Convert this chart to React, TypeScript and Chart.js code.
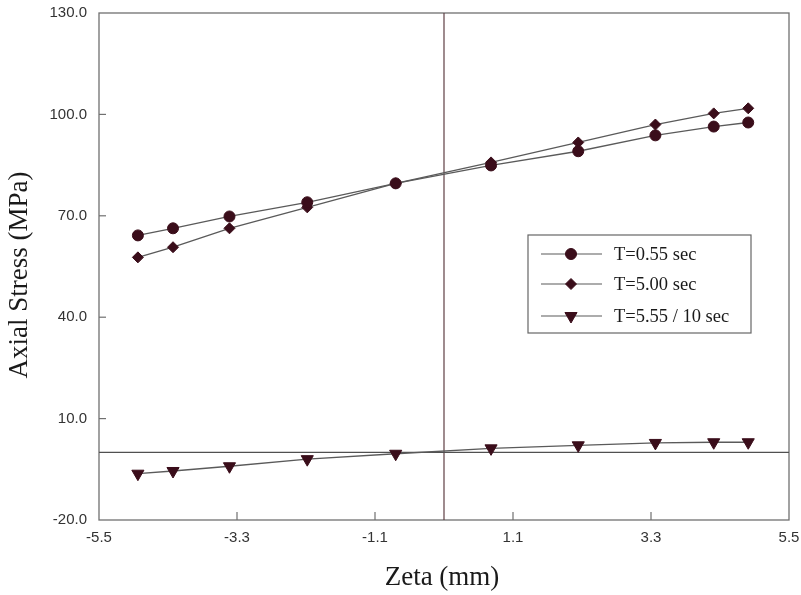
import React, { useEffect, useRef } from "react";
import { Chart, registerables } from "chart.js";
import { drawPoint } from "chart.js/helpers";

Chart.register(...registerables);

// ---- data ----
const zeta = [-4.88, -4.32, -3.42, -2.18, -0.77, 0.75, 2.14, 3.37, 4.3, 4.85];
const stressT055 = [64.2, 66.3, 69.8, 74.0, 79.6, 84.9, 89.1, 93.8, 96.4, 97.6];
const stressT500 = [57.7, 60.7, 66.3, 72.5, 79.6, 85.8, 91.7, 97.0, 100.3, 101.8];
const stressT555 = [-6.3, -5.5, -4.1, -2.0, -0.4, 1.2, 2.1, 2.8, 3.0, 3.0];
const seriesLabels = ["T=0.55 sec", "T=5.00 sec", "T=5.55 / 10 sec"];
const xTitle = "Zeta (mm)";
const yTitle = "Axial Stress (MPa)";
const xMin = -5.5, xMax = 5.5, xStep = 2.2;
const yMin = -20, yMax = 130, yStep = 30;

const markerColor = "#3a0d1a";
const lineColor = "#5a5a5a";
const frameColor = "#707070";

const decorPlugin = {
  id: "decor",
  beforeDatasetsDraw(chart: any) {
    const { ctx, chartArea: a, scales } = chart;
    const xs = scales.x, ys = scales.y;
    ctx.save();
    ctx.strokeStyle = frameColor;
    ctx.lineWidth = 1.3;
    ctx.strokeRect(a.left, a.top, a.right - a.left, a.bottom - a.top);
    const x0 = xs.getPixelForValue(0);
    const y0 = ys.getPixelForValue(0);
    ctx.strokeStyle = "#5e3e44";
    ctx.lineWidth = 1.2;
    ctx.beginPath();
    ctx.moveTo(x0, a.top);
    ctx.lineTo(x0, a.bottom);
    ctx.stroke();
    ctx.strokeStyle = "#505050";
    ctx.beginPath();
    ctx.moveTo(a.left, y0);
    ctx.lineTo(a.right, y0);
    ctx.stroke();
    ctx.strokeStyle = frameColor;
    ctx.lineWidth = 1.2;
    xs.ticks.forEach((t: any) => {
      if (t.value <= xMin + 1e-6 || t.value >= xMax - 1e-6) return;
      const px = xs.getPixelForValue(t.value);
      ctx.beginPath();
      ctx.moveTo(px, a.bottom);
      ctx.lineTo(px, a.bottom - 8);
      ctx.stroke();
    });
    ys.ticks.forEach((t: any) => {
      if (t.value <= yMin + 1e-6 || t.value >= yMax - 1e-6) return;
      const py = ys.getPixelForValue(t.value);
      ctx.beginPath();
      ctx.moveTo(a.left, py);
      ctx.lineTo(a.left + 7, py);
      ctx.stroke();
    });
    ctx.restore();
  },
  afterDraw(chart: any) {
    const { ctx, chartArea: a } = chart;
    ctx.save();
    ctx.fillStyle = "#1a1a1a";
    ctx.font = "27px 'Liberation Serif', 'Times New Roman', serif";
    ctx.textAlign = "center";
    ctx.textBaseline = "middle";
    ctx.fillText(xTitle, 442, 578);
    ctx.save();
    ctx.translate(20, 275);
    ctx.rotate(-Math.PI / 2);
    ctx.fillText(yTitle, 0, 0);
    ctx.restore();

    const bx = 528, by = 235, bw = 223, bh = 98;
    ctx.strokeStyle = "#666";
    ctx.lineWidth = 1.2;
    ctx.strokeRect(bx, by, bw, bh);
    const rows = [254, 284, 316];
    ctx.font = "18.5px 'Liberation Serif', 'Times New Roman', serif";
    ctx.textAlign = "left";
    ctx.textBaseline = "middle";
    chart.data.datasets.forEach((ds: any, i: number) => {
      const y = rows[i];
      ctx.strokeStyle = lineColor;
      ctx.lineWidth = 1.2;
      ctx.beginPath();
      ctx.moveTo(541, y);
      ctx.lineTo(602, y);
      ctx.stroke();
      ctx.fillStyle = markerColor;
      ctx.strokeStyle = markerColor;
      ctx.lineWidth = 1;
      drawPoint(ctx, {
        pointStyle: ds.pointStyle,
        radius: ds.pointRadius,
        rotation: ds.pointRotation || 0,
        borderWidth: 1,
      }, 571, y);
      ctx.fillStyle = "#1a1a1a";
      ctx.fillText(ds.label, 614, y + 1);
    });
    ctx.restore();
  },
};

const zeroPad = (s: any) => {
  s.paddingTop = 0;
  s.paddingBottom = 0;
  s.paddingLeft = 0;
  s.paddingRight = 0;
};

export default function App() {
  const ref = useRef<HTMLCanvasElement | null>(null);
  useEffect(() => {
    if (!ref.current) return;
    const mk = (label: string, ys: number[], style: string, r: number, rot = 0) => ({
      label,
      data: zeta.map((x, i) => ({ x, y: ys[i] })),
      showLine: true,
      borderColor: lineColor,
      borderWidth: 1.3,
      backgroundColor: markerColor,
      pointBackgroundColor: markerColor,
      pointBorderColor: markerColor,
      pointBorderWidth: 1,
      pointStyle: style,
      pointRadius: r,
      pointRotation: rot,
      tension: 0,
    });
    const chart = new Chart(ref.current, {
      type: "scatter",
      data: {
        datasets: [
          mk(seriesLabels[0], stressT055, "circle", 5.5),
          mk(seriesLabels[1], stressT500, "rectRot", 5.5),
          mk(seriesLabels[2], stressT555, "triangle", 7, 180),
        ],
      },
      options: {
        responsive: false,
        animation: false,
        layout: { padding: { left: 0, right: 12, top: 13, bottom: 0 } },
        plugins: {
          legend: { display: false },
          tooltip: { enabled: false },
        },
        scales: {
          x: {
            type: "linear",
            min: xMin,
            max: xMax,
            grid: { display: false, drawTicks: false },
            border: { display: false },
            ticks: {
              stepSize: xStep,
              autoSkip: false,
              maxRotation: 0,
              padding: 9,
              color: "#333",
              font: { family: "'Liberation Sans', Arial, sans-serif", size: 15 },
              callback: (v: any) => Number(v).toFixed(1),
            },
            afterFit: (s: any) => { s.height = 75; zeroPad(s); },
          },
          y: {
            type: "linear",
            min: yMin,
            max: yMax,
            grid: { display: false, drawTicks: false },
            border: { display: false },
            ticks: {
              stepSize: yStep,
              autoSkip: false,
              padding: 12,
              color: "#333",
              font: { family: "'Liberation Sans', Arial, sans-serif", size: 15 },
              callback: (v: any) => Number(v).toFixed(1),
            },
            afterFit: (s: any) => { s.width = 99; zeroPad(s); },
          },
        },
      },
      plugins: [decorPlugin],
    });
    return () => chart.destroy();
  }, []);
  return (
    <div style={{ position: "fixed", left: 0, top: 0, width: 801, height: 595, background: "#fff" }}>
      <canvas ref={ref} width={801} height={595} style={{ display: "block", width: 801, height: 595 }} />
    </div>
  );
}
